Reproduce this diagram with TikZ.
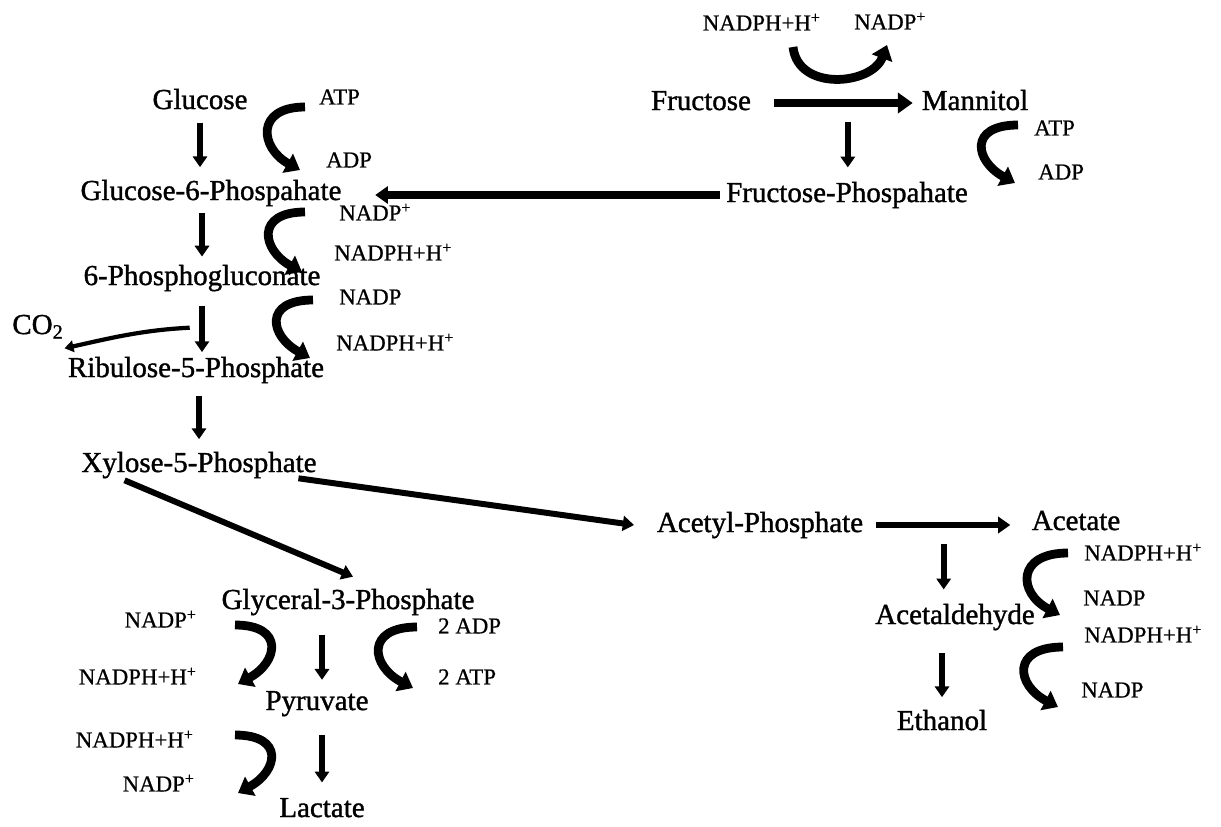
\documentclass[tikz,border=0pt]{standalone}
\usepackage{fontspec}
\setmainfont{Liberation Serif}
\newfontfamily\heavyserif[FakeBold=1.2]{Liberation Serif}
\newfontfamily\halfheavyserif[FakeBold=0.6]{Liberation Serif}
\usepackage{tikz}
\usetikzlibrary{arrows.meta, calc}
\tikzstyle{metabolite} = [
    inner xsep=2pt,
    inner ysep=1pt,
    text height=11.5pt,
    text depth=3.5pt,
    font=\heavyserif\fontsize{16.5}{18}\selectfont
]
\tikzstyle{cofactor} = [inner sep=0.5pt, text height=9.5pt, text depth=1pt, font=\halfheavyserif\fontsize{13}{15}\selectfont]
\tikzstyle{reaction} = [-{Triangle[length=2pt 1.3, width=2pt 1.9]}, line width=3.2pt]
\tikzstyle{coupled} = [-{Triangle[length=8pt, width=12pt]}, line width=5pt]

\begin{document}
\begin{tikzpicture}[x=0.2mm, y=-0.2mm]
    \useasboundingbox (0, 0) rectangle (1221, 826);

    % Metabolites.
    \node (glucose) [metabolite] at (200, 102) {Glucose};
    \node (g6p) [metabolite] at (211, 193) {Glucose-6-Phospahate};
    \node (gluconate) [metabolite] at (202, 278) {6-Phosphogluconate};
    \node (ribulose) [metabolite] at (196, 370) {Ribulose-5-Phosphate};
    \node (xylose) [metabolite] at (199, 465) {Xylose-5-Phosphate};
    \node (co2) [metabolite] at (38, 327) {CO\textsubscript{2}};

    \node (glyceral) [metabolite] at (348, 602) {Glyceral-3-Phosphate};
    \node (pyruvate) [metabolite] at (317, 703) {Pyruvate};
    \node (lactate) [metabolite] at (322, 810) {Lactate};

    \node (fructose) [metabolite] at (701, 103) {Fructose};
    \node (mannitol) [metabolite] at (975, 103) {Mannitol};
    \node (fructose p) [metabolite] at (847, 195) {Fructose-Phospahate};

    \node (acetyl) [metabolite] at (760, 525) {Acetyl-Phosphate};
    \node (acetate) [metabolite] at (1076, 523) {Acetate};
    \node (acetaldehyde) [metabolite] at (955, 617) {Acetaldehyde};
    \node (ethanol) [metabolite] at (942, 723) {Ethanol};

    % Cofactors.
    \node (atp glucose) [cofactor, anchor=west] at (318, 97) {ATP};
    \node (adp glucose) [cofactor, anchor=west] at (325, 160) {ADP};
    \node (nadp g6p) [cofactor, anchor=west] at (338, 213) {NADP\textsuperscript{+}};
    \node (nadph g6p) [cofactor, anchor=west] at (333, 253) {NADPH+H\textsuperscript{+}};
    \node (nadp gluconate) [cofactor, anchor=west] at (338, 297) {NADP};
    \node (nadph gluconate) [cofactor, anchor=west] at (335, 343) {NADPH+H\textsuperscript{+}};

    \node (nadph fructose) [cofactor, anchor=east] at (822, 23) {NADPH+H\textsuperscript{+}};
    \node (nadp fructose) [cofactor, anchor=west] at (853, 22) {NADP\textsuperscript{+}};
    \node (atp mannitol) [cofactor, anchor=west] at (1033, 128) {ATP};
    \node (adp mannitol) [cofactor, anchor=west] at (1037, 172) {ADP};

    \node (nadp glyceral) [cofactor, anchor=east] at (198, 620) {NADP\textsuperscript{+}};
    \node (nadph glyceral) [cofactor, anchor=east] at (198, 677) {NADPH+H\textsuperscript{+}};
    \node (adp glyceral) [cofactor, anchor=west] at (437, 626) {2 ADP};
    \node (atp glyceral) [cofactor, anchor=west] at (437, 677) {2 ATP};
    \node (nadph pyruvate) [cofactor, anchor=east] at (195, 740) {NADPH+H\textsuperscript{+}};
    \node (nadp pyruvate) [cofactor, anchor=east] at (196, 784) {NADP\textsuperscript{+}};

    \node (nadph acetate) [cofactor, anchor=west] at (1083, 553) {NADPH+H\textsuperscript{+}};
    \node (nadp acetate) [cofactor, anchor=west] at (1082, 598) {NADP};
    \node (nadph acetaldehyde) [cofactor, anchor=west] at (1083, 635) {NADPH+H\textsuperscript{+}};
    \node (nadp acetaldehyde) [cofactor, anchor=west] at (1080, 690) {NADP};

    % Paths.

    % Left column.
    \draw [reaction, shorten <=3pt, shorten >=6pt] (glucose) -- (glucose |- g6p.north);
    \draw [reaction, shorten <=2.5pt, shorten >=3.5pt] (gluconate |- g6p.south) -- (gluconate);
    \draw [reaction, shorten <=7pt, shorten >=1.5pt] (gluconate) -- coordinate [pos=0.55] (decarb) (gluconate |- ribulose.north);
    \draw [reaction, shorten <=6pt, shorten >=6pt] (xylose |- ribulose.south) -- (xylose);
    \draw [reaction, line width=2.4pt, shorten <=7pt] (decarb) .. controls +(-60, 3) and +(45, -10) .. ($(co2.south east)+(-3, 6)$);

    % Branches from xylose.
    \draw [reaction, line width=3.4pt] ($(xylose.south west)+(47, 0)$) -- ($(glyceral.north)+(5, -10)$);
    \draw [reaction, line width=3.4pt] ($(xylose.south east)+(-22, -2)$) -- ($(acetyl.west)+(-19, 0)$);

    \draw [reaction, shorten <=10pt, shorten >=4.5pt] (lactate |- glyceral.south) -- (lactate |- pyruvate.north);
    \draw [reaction, shorten <=9.5pt, shorten >=7pt] (lactate |- pyruvate.south) -- (lactate);

    % Fructose side.
    \draw [reaction, line width=5pt, shorten <=11pt, shorten >=3pt] (fructose) -- coordinate [pos=0.57] (fork fructose) (mannitol);
    \draw [reaction, shorten <=11pt, shorten >=7pt] (fork fructose) -- (fork fructose |- fructose p.north);
    \draw [reaction, line width=4pt, shorten <=1.5pt, shorten >=17pt] (fructose p.west) -- (fructose p.west -| g6p.east);

    % Acetyl side.
    \draw [reaction, line width=3.8pt, shorten <=5pt, shorten >=10pt] (acetyl) -- coordinate [pos=0.477] (fork acetyl) (acetyl -| acetate.west);
    \draw [reaction, shorten <=11pt, shorten >=7pt] (fork acetyl) -- (fork acetyl |- acetaldehyde.north);
    \draw [reaction, shorten <=12pt, shorten >=6pt] (ethanol |- acetaldehyde.south) -- (ethanol);

    % Cofactor swings.
    \draw [coupled] ($(atp glucose.west)+(-13, 10)$) .. controls +(-50, 0) and +(-40, -22) .. ($(adp glucose.west)+(-25, 10)$);
    \draw [coupled] ($(nadp g6p.west)+(-33, -1)$) .. controls +(-50, 0) and +(-40, -22) .. ($(nadph g6p.west)+(-31, 19)$);
    \draw [coupled] ($(nadp gluconate.west)+(-25, 3)$) .. controls +(-50, 0) and +(-40, -22) .. ($(nadph gluconate.west)+(-25, 15)$);
    \draw [coupled] ($(nadph fructose.east)+(-29, 24)$) .. controls +(5, 45) and +(-15, 40) .. ($(nadp fructose.west)+(34, 23)$);
    \draw [coupled] ($(atp mannitol.west)+(-15, -3)$) .. controls +(-50, 0) and +(-40, -22) .. ($(adp mannitol.west)+(-22, 11)$);
    \draw [coupled] ($(nadp glyceral.east)+(37, 5)$) .. controls +(50, 0) and +(40, -22) .. ($(nadph glyceral.east)+(40, 7)$);
    \draw [coupled] ($(adp glyceral.west)+(-20, 1)$) .. controls +(-52, 0) and +(-42, -22) .. ($(atp glyceral.west)+(-24, 11)$);
    \draw [coupled] ($(nadph pyruvate.east)+(40, -5)$) .. controls +(50, 0) and +(40, -22) .. ($(nadp pyruvate.east)+(42, 9)$);
    \draw [coupled] ($(nadph acetate.west)+(-15, 0)$) .. controls +(-52, 0) and +(-42, -22) .. ($(nadp acetate.west)+(-22, 17)$);
    \draw [coupled] ($(nadph acetaldehyde.west)+(-20, 12)$) .. controls +(-52, 0) and +(-42, -22) .. ($(nadp acetaldehyde.west)+(-22, 17)$);
\end{tikzpicture}
\end{document}
